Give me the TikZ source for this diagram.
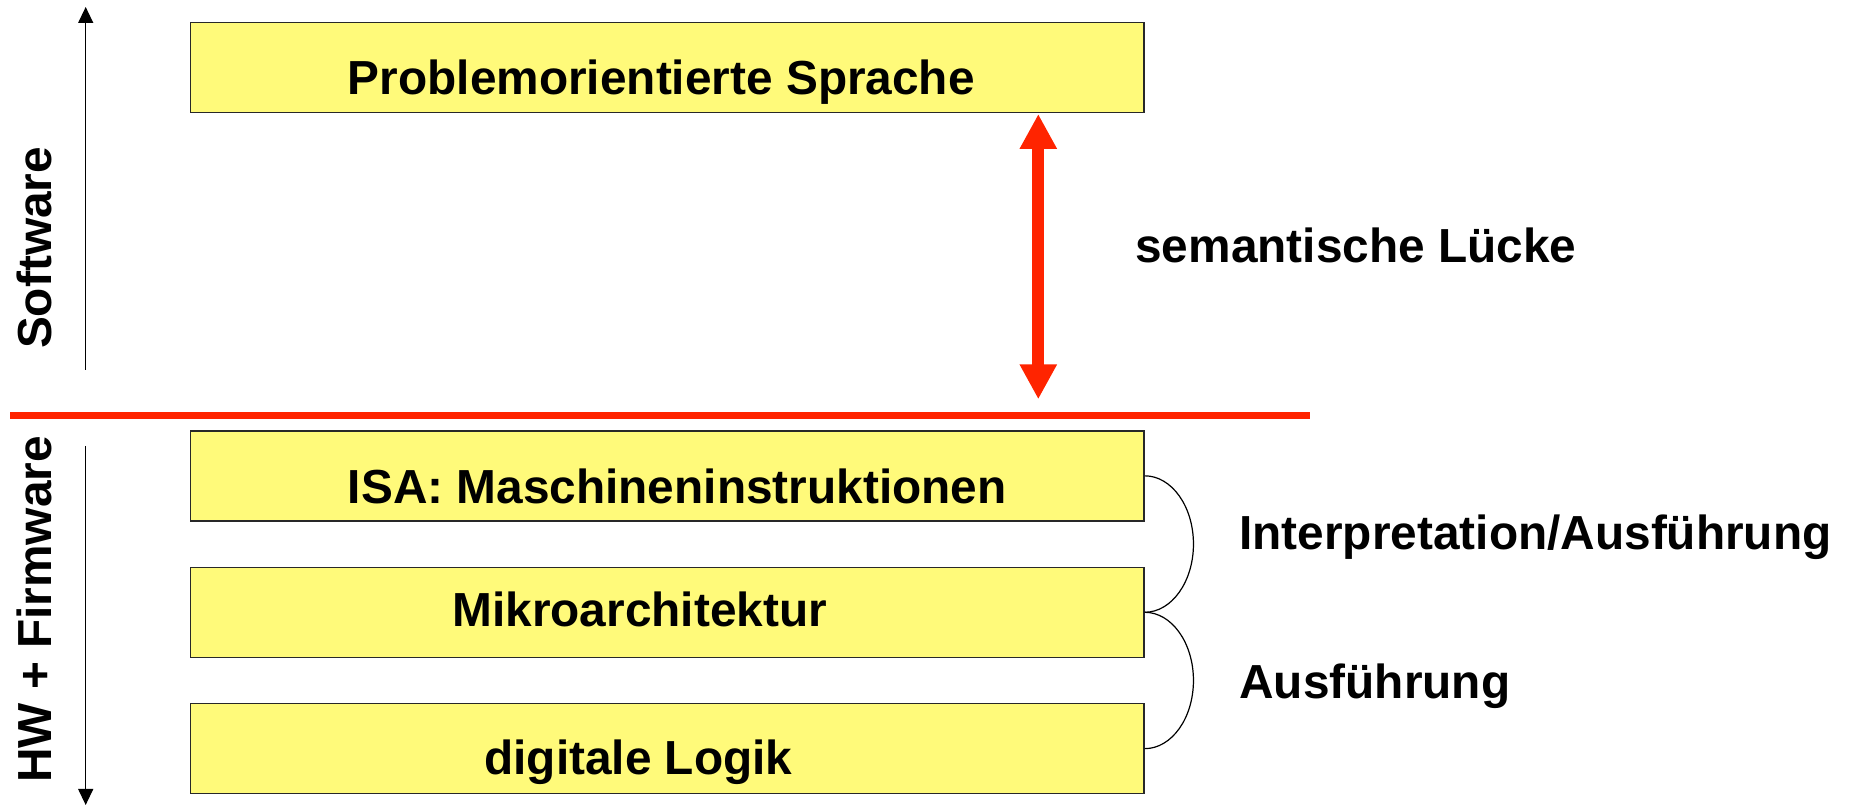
\documentclass[tikz,border=0pt]{standalone}
\usepackage{fontspec}
\setmainfont{Liberation Sans}
\usetikzlibrary{arrows.meta}
\definecolor{boxyellow}{RGB}{255,250,122}
\definecolor{gapred}{RGB}{255,36,0}
\definecolor{boxline}{RGB}{40,40,40}
\tikzset{
  layerbox/.style={draw=boxline, line width=0.75pt, fill=boxyellow, minimum width=476.65pt, minimum height=45pt, inner sep=0pt},
  lbl/.style={font=\fontsize{23.9}{28}\selectfont\bfseries, inner sep=0pt, anchor=base west},
  sidelbl/.style={font=\fontsize{23.9}{28}\selectfont\bfseries, inner sep=0pt, anchor=base, rotate=90},
  axisarrow/.style={line width=0.65pt, -{Triangle[length=8pt, width=7.5pt]}},
  gaparrow/.style={gapred, line width=5.85pt, {Triangle[length=17.5pt, width=17.5pt]}-{Triangle[length=17.5pt, width=17.5pt]}},
  divider/.style={gapred, line width=3.8pt},
  bracket/.style={line width=0.6pt}
}
\begin{document}
\begin{tikzpicture}[x=0.5pt, y=0.5pt]
\useasboundingbox (0,0) rectangle (1852,806);
% boxes
\node[layerbox] (top) at (667.35,738.3) {};
\node[layerbox] (isa) at (667.35,330.15) {};
\node[layerbox] (mikro) at (667.35,193.7) {};
\node[layerbox] (logik) at (667.35,57.35) {};
% box texts
\node[lbl] (ttop) at (347.5,711) {Problemorientierte Sprache};
\node[lbl] (tisa) at (347.5,302) {ISA: Maschineninstruktionen};
\node[lbl] (tmikro) at (452,179) {Mikroarchitektur};
\node[lbl] (tlogik) at (484,31) {digitale Logik};
% side labels
\node[lbl] (tgap) at (1135,543) {semantische Lücke};
\node[lbl] (tinterp) at (1239,256) {Interpretation/Ausführung};
\node[lbl] (tausf) at (1239,107) {Ausführung};
\node[sidelbl] (tsw) at (51.5,558) {Software};
\node[sidelbl] (thw) at (51.5,196.5) {HW + Firmware};
% axis arrows
\coordinate (swlow) at (85.7,436);
\coordinate (swtip) at (85.7,799);
\coordinate (hwhigh) at (85.7,360);
\coordinate (hwtip) at (85.7,1);
\draw[axisarrow] (swlow) -- (swtip);
\draw[axisarrow] (hwhigh) -- (hwtip);
% divider
\coordinate (divl) at (10,390.5);
\coordinate (divr) at (1310,390.5);
\draw[divider] (divl) -- (divr);
% semantic gap arrow
\coordinate (gaplow) at (1038.3,406.7);
\coordinate (gaphigh) at (1038.3,692);
\draw[gaparrow] (gaplow) -- (gaphigh);
% brackets
\draw[bracket] (isa.east) arc[start angle=90, end angle=-90, x radius=24.35pt, y radius=34.11pt];
\draw[bracket] (mikro.east) arc[start angle=90, end angle=-90, x radius=24.35pt, y radius=34.09pt];
\end{tikzpicture}
\end{document}
